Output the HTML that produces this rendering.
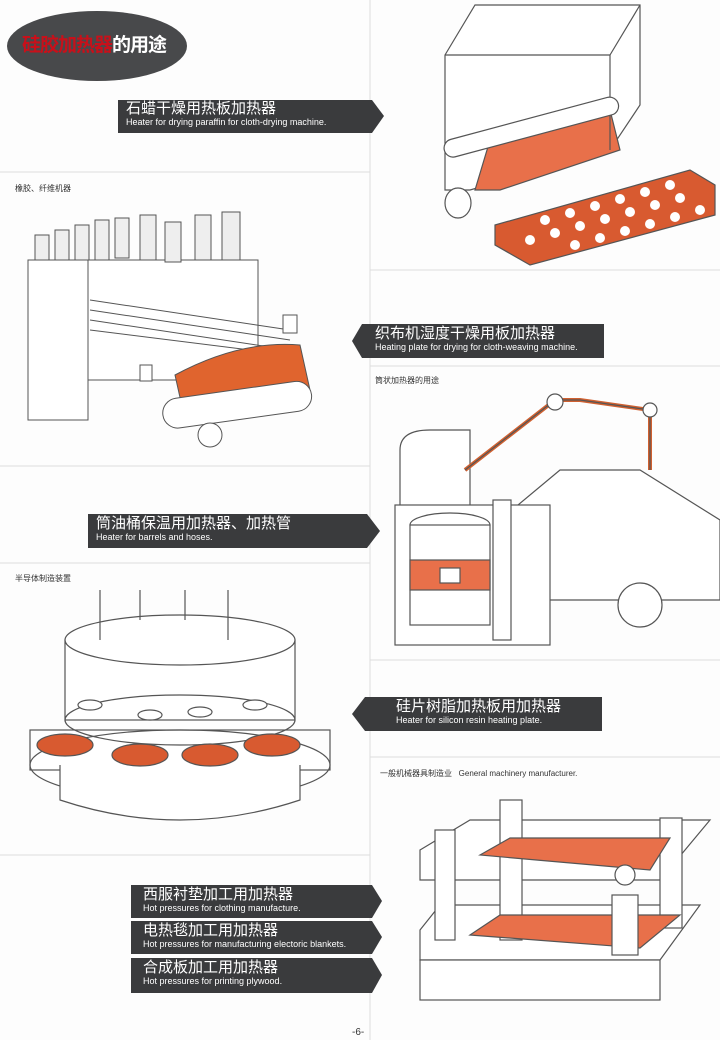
<!DOCTYPE html>
<html><head><meta charset="utf-8"><style>
body{margin:0;background:#fff;}
#p{position:relative;width:720px;height:1040px;overflow:hidden;background:#fdfdfd;font-family:"Liberation Sans","Noto Sans CJK SC",sans-serif;}
.t{position:absolute;color:#fff;white-space:nowrap}
.cn{font-size:15px;line-height:16px}
.en{font-size:9px;line-height:10px}
.lab{position:absolute;font-size:8px;color:#333;white-space:nowrap}
</style></head><body><div id="p">
<svg width="720" height="1040" style="position:absolute;left:0;top:0">
<g stroke="#ddd" stroke-width="1">
<line x1="370" y1="0" x2="370" y2="1040"/>
<line x1="0" y1="172" x2="370" y2="172"/>
<line x1="0" y1="466" x2="370" y2="466"/>
<line x1="0" y1="563" x2="370" y2="563"/>
<line x1="0" y1="855" x2="370" y2="855"/>
<line x1="370" y1="270" x2="720" y2="270"/>
<line x1="370" y1="366" x2="720" y2="366"/>
<line x1="370" y1="660" x2="720" y2="660"/>
<line x1="370" y1="757" x2="720" y2="757"/>
</g>
<ellipse cx="97" cy="46" rx="90" ry="35" fill="#48494b"/>
<g fill="#3a3b3d">
<polygon points="118,100 372,100 384,116 372,133 118,133"/>
<polygon points="352,341 362,324 604,324 604,358 362,358"/>
<polygon points="88,514 367,514 380,531 367,548 88,548"/>
<polygon points="352,714 365,697 602,697 602,731 365,731"/>
<polygon points="131,885 372,885 382,901 372,918 131,918"/>
<polygon points="131,921 372,921 382,937 372,954 131,954"/>
<polygon points="131,958 372,958 382,975 372,993 131,993"/>
</g>
<g stroke="#555" fill="#fff" stroke-width="1.2">
<polygon points="445,55 475,5 640,5 640,105 610,150 470,190 445,190"/>
<polygon points="475,190 490,140 610,110 620,150 500,190" fill="#e8704a"/>
<line x1="445" y1="55" x2="610" y2="55"/><line x1="610" y1="55" x2="640" y2="5"/><line x1="610" y1="55" x2="610" y2="150"/>
<rect x="455" y="140" width="180" height="18" rx="9" transform="rotate(-15 455 190)"/>
<ellipse cx="458" cy="203" rx="13" ry="15"/>
<polygon points="495,225 690,170 715,185 715,215 530,265 495,245" fill="#d85a30"/>
</g>
<g fill="#fff">
<circle cx="545" cy="220" r="5"/><circle cx="570" cy="213" r="5"/><circle cx="595" cy="206" r="5"/><circle cx="620" cy="199" r="5"/><circle cx="645" cy="192" r="5"/><circle cx="670" cy="185" r="5"/>
<circle cx="530" cy="240" r="5"/><circle cx="555" cy="233" r="5"/><circle cx="580" cy="226" r="5"/><circle cx="605" cy="219" r="5"/><circle cx="630" cy="212" r="5"/><circle cx="655" cy="205" r="5"/><circle cx="680" cy="198" r="5"/>
<circle cx="575" cy="245" r="5"/><circle cx="600" cy="238" r="5"/><circle cx="625" cy="231" r="5"/><circle cx="650" cy="224" r="5"/><circle cx="675" cy="217" r="5"/><circle cx="700" cy="210" r="5"/>
</g>
<g stroke="#555" fill="#fff" stroke-width="1">
<rect x="28" y="260" width="60" height="160"/><rect x="88" y="260" width="170" height="120"/>
<g fill="#eee"><rect x="35" y="235" width="14" height="25"/><rect x="55" y="230" width="14" height="30"/><rect x="75" y="225" width="14" height="35"/><rect x="95" y="220" width="14" height="40"/><rect x="115" y="218" width="14" height="40"/><rect x="140" y="215" width="16" height="45"/><rect x="165" y="222" width="16" height="40"/><rect x="195" y="215" width="16" height="45"/><rect x="222" y="212" width="18" height="48"/></g>
<line x1="90" y1="300" x2="290" y2="330"/><line x1="90" y1="310" x2="290" y2="340"/><line x1="90" y1="320" x2="290" y2="350"/><line x1="90" y1="330" x2="290" y2="355"/>
<path d="M175 375 Q240 340 300 345 L310 390 Q250 395 185 420 Z" fill="#e0642e"/>
<rect x="165" y="400" width="150" height="30" rx="15" transform="rotate(-8 165 430)"/>
<circle cx="210" cy="435" r="12"/>
<rect x="283" y="315" width="14" height="18"/><rect x="140" y="365" width="12" height="16"/>
</g>
<g stroke="#555" fill="#fff" stroke-width="1.2">
<path d="M400 450 Q400 430 430 430 L470 430 L470 520 L400 520 Z"/>
<path d="M500 520 L560 470 L640 470 L720 520 L720 600 L500 600 Z"/>
<rect x="395" y="505" width="155" height="140"/>
<ellipse cx="450" cy="525" rx="40" ry="12"/>
<rect x="410" y="525" width="80" height="100"/>
<rect x="410" y="560" width="80" height="30" fill="#e8704a"/>
<rect x="440" y="568" width="20" height="15"/>
<rect x="493" y="500" width="18" height="140"/>
<circle cx="640" cy="605" r="22"/>
<path d="M465 470 L555 400 L580 400 L650 410 L650 470" fill="none" stroke="#d06030" stroke-width="4"/>
<path d="M465 470 L555 400 L580 400 L650 410 L650 470" fill="none"/>
<circle cx="555" cy="402" r="8"/><circle cx="650" cy="410" r="7"/>
</g>
<g stroke="#555" fill="#fff" stroke-width="1.2">
<ellipse cx="180" cy="765" rx="150" ry="35"/>
<rect x="30" y="730" width="300" height="40" fill="none"/>
<path d="M60 765 L60 800 Q180 840 300 800 L300 765"/>
<rect x="65" y="640" width="230" height="80"/>
<ellipse cx="180" cy="640" rx="115" ry="25"/>
<ellipse cx="180" cy="720" rx="115" ry="25" fill="none"/>
<line x1="100" y1="590" x2="100" y2="640"/><line x1="140" y1="590" x2="140" y2="620"/><line x1="185" y1="590" x2="185" y2="620"/><line x1="228" y1="590" x2="228" y2="640"/>
<g fill="#d85a30"><ellipse cx="65" cy="745" rx="28" ry="11"/><ellipse cx="140" cy="755" rx="28" ry="11"/><ellipse cx="210" cy="755" rx="28" ry="11"/><ellipse cx="272" cy="745" rx="28" ry="11"/></g>
<g><ellipse cx="90" cy="705" rx="12" ry="5"/><ellipse cx="150" cy="715" rx="12" ry="5"/><ellipse cx="200" cy="712" rx="12" ry="5"/><ellipse cx="255" cy="705" rx="12" ry="5"/></g>
</g>
<g stroke="#555" fill="#fff" stroke-width="1.2">
<polygon points="420,850 470,820 710,820 660,880 420,880"/>
<polygon points="420,930 440,905 700,905 660,960 420,960"/>
<rect x="420" y="960" width="240" height="40"/>
<rect x="435" y="830" width="20" height="110"/><rect x="500" y="800" width="22" height="140"/><rect x="660" y="818" width="22" height="110"/>
<polygon points="480,855 510,838 670,838 650,870" fill="#e8704a"/>
<polygon points="470,935 500,915 680,915 640,948" fill="#e8704a"/>
<rect x="612" y="895" width="26" height="60"/><circle cx="625" cy="875" r="10"/>
</g>
</svg>
<div class="t" style="left:22px;top:33px;font-size:19px;font-weight:bold;line-height:26px;letter-spacing:-1px"><span style="color:#c8101a">硅胶加热器</span><span>的用途</span></div>
<div class="t" style="left:126px;top:101px"><div class="cn">石蜡干燥用热板加热器</div><div class="en">Heater for drying paraffin for cloth-drying machine.</div></div>
<div class="t" style="left:375px;top:326px"><div class="cn">织布机湿度干燥用板加热器</div><div class="en">Heating plate for drying for cloth-weaving machine.</div></div>
<div class="t" style="left:96px;top:516px"><div class="cn">筒油桶保温用加热器、加热管</div><div class="en">Heater for barrels and hoses.</div></div>
<div class="t" style="left:396px;top:699px"><div class="cn">硅片树脂加热板用加热器</div><div class="en">Heater for silicon resin heating plate.</div></div>
<div class="t" style="left:143px;top:887px"><div class="cn">西服衬垫加工用加热器</div><div class="en">Hot pressures for clothing manufacture.</div></div>
<div class="t" style="left:143px;top:923px"><div class="cn">电热毯加工用加热器</div><div class="en">Hot pressures for manufacturing electoric blankets.</div></div>
<div class="t" style="left:143px;top:960px"><div class="cn">合成板加工用加热器</div><div class="en">Hot pressures for printing plywood.</div></div>
<div class="lab" style="left:15px;top:183px">橡胶、纤维机器</div>
<div class="lab" style="left:375px;top:375px">筒状加热器的用途</div>
<div class="lab" style="left:15px;top:573px">半导体制造装置</div>
<div class="lab" style="left:380px;top:768px">一般机械器具制造业 &nbsp; General machinery manufacturer.</div>
<div class="lab" style="left:352px;top:1027px;font-size:10px">-6-</div>
</div></body></html>
